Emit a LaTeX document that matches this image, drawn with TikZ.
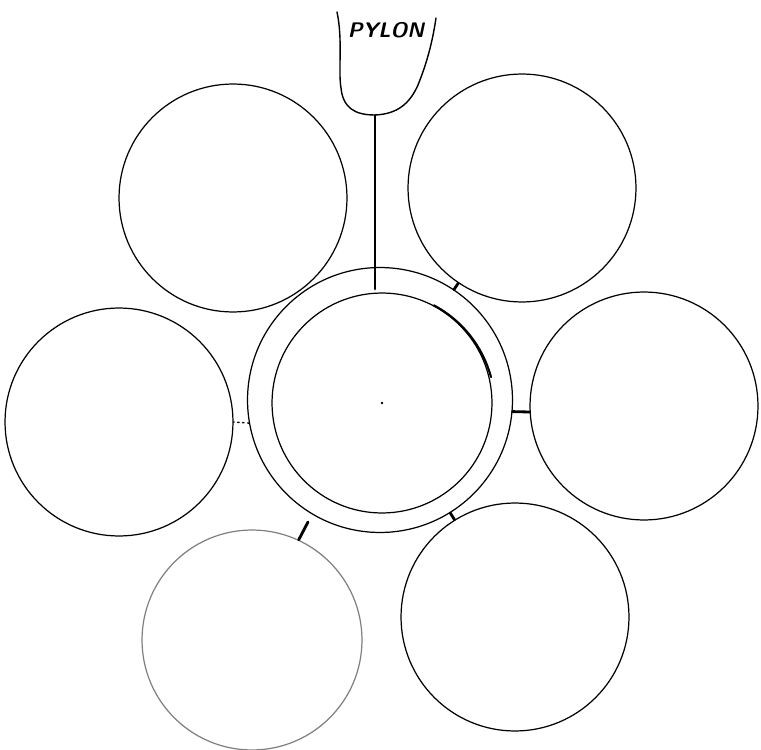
\documentclass[tikz,border=0pt]{standalone}
\usetikzlibrary{positioning}

\begin{document}
\begin{tikzpicture}[x=0.02cm, y=-0.02cm, line cap=round,
    cable/.style={draw, circle, line width=0.7pt, minimum size=4.56cm, inner sep=0pt},
    link/.style={line width=1.6pt}]
  \useasboundingbox (0,0) rectangle (761,750);

  % pylon
  \node[font=\sffamily\bfseries\itshape\large] (pylon) at (386,30) {PYLON};
  \coordinate (pylonbot) at (375,115);
  \draw[line width=0.8pt] (337,12) .. controls (343,40) and (338,70) .. (341,88)
    .. controls (343,108) and (355,115) .. (pylonbot)
    .. controls (398,114) and (410,103) .. (418,85)
    .. controls (426,65) and (432,45) .. (436,18);

  % centre cable with its sheath
  \node[cable, minimum size=5.3cm] (sheath) at (380,400) {};
  \node[cable, minimum size=4.4cm] (core) at (382,403) {};
  \fill (core.center) circle[radius=0.8pt];
  \draw[line width=1.2pt] (core.62) arc[start angle=62, end angle=15, radius=2.3cm];

  % outer cables
  \node[cable] (tl) at (233,198) {};
  \node[cable] (tr) at (522,188) {};
  \node[cable] (lt) at (119,422) {};
  \node[cable] (rt) at (644,406) {};
  \node[cable, draw=black!50, minimum size=4.4cm] (bl) at (252,640) {};
  \node[cable] (br) at (515,617) {};

  % stem from the pylon
  \coordinate (stemjoin) at (375,256);
  \coordinate (stemend) at (375,289);
  \draw[line width=0.7pt] (pylonbot) -- (stemjoin);
  \draw[link] (stemjoin) -- (stemend);

  % ties
  \draw[link] (sheath) -- (tr);
  \draw[link] (sheath.-5) -- (rt.183);
  \draw[link] (sheath) -- (br);
  \draw[dotted, line width=0.8pt] (sheath.190) -- (lt.east);
  \coordinate (slashend) at (308,522);
  \draw[link] (bl.65) -- (slashend);
\end{tikzpicture}
\end{document}
